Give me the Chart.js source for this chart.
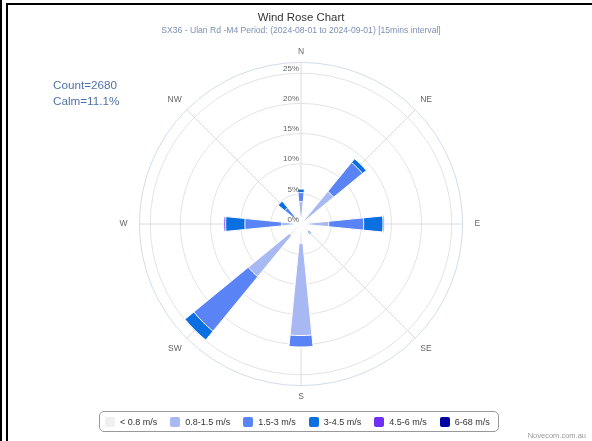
<!DOCTYPE html>
<html>
<head>
<meta charset="utf-8">
<script src="https://cdn.jsdelivr.net/npm/chart.js@4/dist/chart.umd.min.js"></script>
<style>
  html, body { margin: 0; padding: 0; background: #fff; }
  body { width: 592px; height: 441px; position: relative; overflow: hidden; font-family: "Liberation Sans", Arial, sans-serif; }
  .frame-outer { position: absolute; left: 0; top: 0; width: 2px; height: 441px; background: #000; }
  .frame-inner { position: absolute; left: 6px; top: 3px; right: 0; bottom: 0; border-left: 2px solid #000; border-top: 2px solid #000; }
  #box { position: absolute; left: 0; top: 0; width: 592px; height: 441px; }
  #stats { position: absolute; left: 53px; top: 77px; color: #4f73a8; font-size: 11.7px; line-height: 15.7px; }
  #legend {
    position: absolute; left: 99px; top: 411px; width: 400px; height: 21px; box-sizing: border-box;
    border: 1px solid #999; border-radius: 5px; display: flex; align-items: center; gap: 13px;
    padding-left: 5px; font-size: 9px; color: #333;
  }
  #legend .item { display: flex; align-items: center; white-space: nowrap; }
  #legend .sw { width: 10px; height: 10px; border-radius: 2px; margin-right: 5px; }
  #credit { position: absolute; right: 6px; top: 431px; font-size: 7.5px; color: #999; }
</style>
</head>
<body>
<div class="frame-outer"></div>
<div class="frame-inner"></div>
<div id="box"><canvas id="roseChart"></canvas></div>
<div id="stats"></div>
<div id="legend"></div>
<div id="credit">Novecom.com.au</div>

<script>
// directions (clockwise from north) and wind speed bins
const directions = ["N", "NE", "E", "SE", "S", "SW", "W", "NW"];
const speedBins = ["< 0.8 m/s", "0.8-1.5 m/s", "1.5-3 m/s", "3-4.5 m/s", "4.5-6 m/s", "6-68 m/s"];
const binColors = ["#f0f0f0", "#a7b8f2", "#5a83f6", "#0a6fe0", "#6e30f2", "#0000a3"];

// frequency (%) per direction for each speed bin
const below08 = [1.0, 1.0, 1.0, 1.6, 3.2, 2.5, 1.2, 0.8];
const from08to15 = [2.7, 6.0, 3.6, 0.1, 15.3, 8.8, 2.0, 0.8];
const from15to3 = [1.5, 6.2, 5.8, 0.3, 1.9, 11.7, 6.1, 1.9];
const from3to45 = [0.6, 0.8, 3.2, 0.2, 0.0, 1.9, 3.2, 1.4];
const from45to6 = [0.0, 0.0, 0.2, 0.0, 0.0, 0.0, 0.3, 0.0];
const from6to68 = [0.0, 0.0, 0.0, 0.0, 0.0, 0.0, 0.0, 0.0];

const tickValues = [0, 5, 10, 15, 20, 25];
const rMax = 26.8;
const countValue = 2680;
const calmPct = 11.1;

const chartTitle = "Wind Rose Chart";
const chartSubtitle = "SX36 - Ulan Rd -M4 Period: (2024-08-01 to 2024-09-01) [15mins interval]";

const FONT = '"Liberation Sans", Arial, sans-serif';

// 64 label slots so the grid spokes fall on the middle of each bar
const LABEL_SLOTS = 64;
const labels = Array.from({ length: LABEL_SLOTS }, (_, i) =>
  i % 8 === 1 ? directions[(i - 1) / 8] : "");

// each direction gets one bar slot followed by three empty slots
const bins = [below08, from08to15, from15to3, from3to45, from45to6, from6to68];
let running = directions.map(() => 0);
const datasets = bins.map((vals, k) => {
  running = running.map((r, d) => r + vals[d]);
  const data = [];
  running.forEach(v => data.push(+v.toFixed(2), 0, 0, 0));
  return {
    label: speedBins[k],
    data: data,
    backgroundColor: binColors[k],
    borderColor: "#ffffff",
    borderWidth: ctx => (ctx.raw ? 1 : 0)
  };
});

// radial tick labels sit just left of the north spoke
const tickLabelPlugin = {
  id: "tickLabels",
  afterDatasetsDraw(chart) {
    const scale = chart.scales.r;
    const ctx = chart.ctx;
    ctx.save();
    ctx.font = "8px " + FONT;
    ctx.fillStyle = "#666";
    ctx.textAlign = "right";
    ctx.textBaseline = "middle";
    tickValues.forEach(v => {
      const d = scale.getDistanceFromCenterForValue(v);
      ctx.fillText(v + "%", scale.xCenter - 2, scale.yCenter - d - 4.5);
    });
    ctx.restore();
  }
};

Chart.defaults.font.family = FONT;

new Chart(document.getElementById("roseChart"), {
  type: "polarArea",
  data: { labels: labels, datasets: datasets },
  options: {
    responsive: true,
    maintainAspectRatio: false,
    animation: false,
    layout: { padding: { left: 10, right: 0, top: 0, bottom: 39 } },
    plugins: {
      legend: { display: false },
      tooltip: { enabled: false },
      title: {
        display: true,
        text: chartTitle,
        color: "#333",
        font: { size: 11.4, weight: "normal" },
        padding: { top: 11.5, bottom: 0 }
      },
      subtitle: {
        display: true,
        text: chartSubtitle,
        color: "#7d8fb3",
        font: { size: 8.6 },
        padding: { top: 0, bottom: 10.7 }
      }
    },
    scales: {
      r: {
        min: 0,
        max: rMax,
        startAngle: -360 / LABEL_SLOTS,
        ticks: { stepSize: 5, display: false, includeBounds: false },
        afterBuildTicks: axis => { axis.ticks.push({ value: rMax }); },
        grid: {
          circular: true,
          color: ctx => (ctx.tick && ctx.tick.value === rMax ? "#d3dbea" : "#e3e3e3")
        },
        angleLines: {
          display: true,
          color: ctx => (ctx.label ? "#dcdcdc" : "rgba(0,0,0,0)")
        },
        pointLabels: {
          display: true,
          color: "#666",
          font: ctx => ({ size: ctx.label ? 8.5 : 1 }),
          padding: ctx => {
            if (ctx.label === "E" || ctx.label === "W") return 12;
            if (ctx.label === "N" || ctx.label === "S") return 6;
            return 7;
          }
        }
      }
    }
  },
  plugins: [tickLabelPlugin]
});

// stats text and legend
document.getElementById("stats").innerHTML =
  "Count=" + countValue + "<br>Calm=" + calmPct + "%";

const legendEl = document.getElementById("legend");
speedBins.forEach((name, k) => {
  const item = document.createElement("div");
  item.className = "item";
  const sw = document.createElement("span");
  sw.className = "sw";
  sw.style.background = binColors[k];
  const txt = document.createElement("span");
  txt.textContent = name;
  item.appendChild(sw);
  item.appendChild(txt);
  legendEl.appendChild(item);
});
</script>
</body>
</html>
